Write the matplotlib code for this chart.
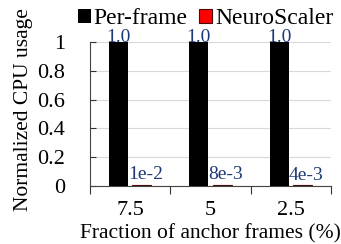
import matplotlib.pyplot as plt
import numpy as np

categories = ['7.5', '5', '2.5']
per_frame = [1.0, 1.0, 1.0]
neuroscaler = [0.01, 0.008, 0.004]
per_frame_labels = ['1.0', '1.0', '1.0']
neuro_labels = ['1e-2', '8e-3', '4e-3']

plt.rcParams['font.family'] = ['Liberation Serif', 'DejaVu Serif']

fig = plt.figure(figsize=(3.41, 2.44), dpi=100)
ax = fig.add_axes([90 / 341, 1 - 186 / 244, 241 / 341, 144 / 244])

x = np.arange(len(categories))
w = 0.24
ax.bar(x - 0.145, per_frame, w, color='black', label='Per-frame', zorder=3)
ax.bar(x + 0.145, neuroscaler, w, color='red', edgecolor='#4a0a0a', linewidth=0.8,
       label='NeuroScaler', zorder=3)

lab_color = '#1F3A78'
for i in range(len(categories)):
    ax.text(x[i] - 0.145, per_frame[i] - 0.03, per_frame_labels[i], ha='center', va='bottom',
            fontsize=14, color=lab_color, zorder=4)
    ax.text(x[i] + 0.19, neuroscaler[i] + 0.01, neuro_labels[i], ha='center', va='bottom',
            fontsize=14, color=lab_color, zorder=4)

ax.set_xlim(-0.5, 2.5)
ax.set_ylim(0, 1)
ax.set_yticks([0, 0.2, 0.4, 0.6, 0.8, 1.0])
ax.set_yticklabels(['0', '0.2', '0.4', '0.6', '0.8', '1'])
ax.set_xticks([-0.5, 0.5, 1.5, 2.5], minor=False)
ax.set_xticklabels([])
ax.set_xticks(x, minor=True)
ax.set_xticklabels(categories, minor=True)
ax.tick_params(axis='x', which='minor', length=0, labelsize=16, pad=11)
ax.tick_params(axis='x', which='major', length=6, direction='out', width=0.8, color='#333333')
ax.tick_params(axis='y', labelsize=16, length=4, direction='in', width=0.8, pad=18,
               color='#333333')
ax.yaxis.grid(True, color='#d9d9d9', linewidth=0.8, zorder=0)
ax.set_axisbelow(True)
for s in ['top', 'right']:
    ax.spines[s].set_visible(False)
ax.spines['left'].set_color('#444444')
ax.spines['bottom'].set_color('#444444')

ax.set_ylabel('Normalized CPU usage', fontsize=15.5)
ax.yaxis.set_label_coords(-0.236, 0.53)
ax.set_xlabel('Fraction of anchor frames (%)', fontsize=15.5, labelpad=3)

ax.legend(loc='lower center', bbox_to_anchor=(0.48, 1.09), ncol=2, frameon=False,
          fontsize=17, handlelength=0.55, handleheight=0.55, handletextpad=0.12,
          columnspacing=0.5, borderaxespad=0, borderpad=0)

fig.savefig('out.png', dpi=100)
